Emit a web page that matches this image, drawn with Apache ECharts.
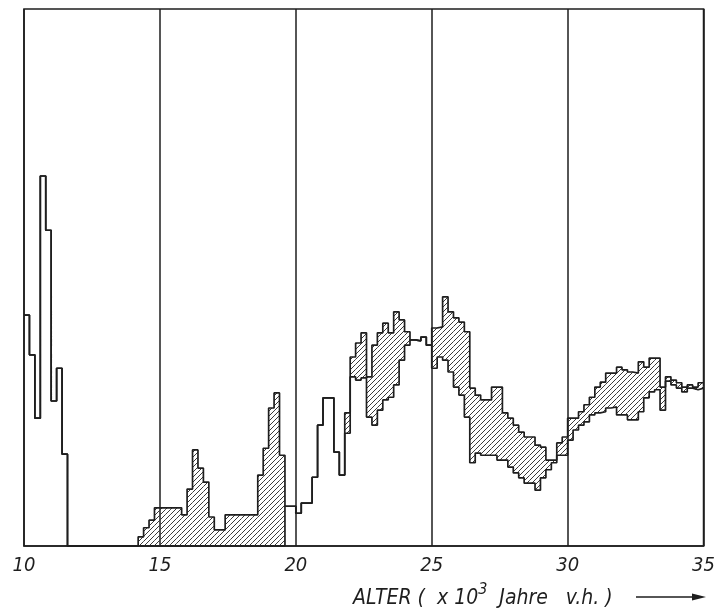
<!DOCTYPE html>
<html><head><meta charset="utf-8">
<script src="https://cdn.jsdelivr.net/npm/echarts@6/dist/echarts.min.js"></script>
<style>html,body{margin:0;padding:0;background:#fff}#c{width:718px;height:610px}</style>
</head><body><div id="c"></div>
<script>
// Bin edges (x 10^3 years before present), 0.2 kyr bins, last entry = right edge
const ages = [
  10.0,10.2,10.4,10.6,10.8,11.0,11.2,11.4,11.6,11.8,
  12.0,12.2,12.4,12.6,12.8,13.0,13.2,13.4,13.6,13.8,
  14.0,14.2,14.4,14.6,14.8,15.0,15.2,15.4,15.6,15.8,
  16.0,16.2,16.4,16.6,16.8,17.0,17.2,17.4,17.6,17.8,
  18.0,18.2,18.4,18.6,18.8,19.0,19.2,19.4,19.6,19.8,
  20.0,20.2,20.4,20.6,20.8,21.0,21.2,21.4,21.6,21.8,
  22.0,22.2,22.4,22.6,22.8,23.0,23.2,23.4,23.6,23.8,
  24.0,24.2,24.4,24.6,24.8,25.0,25.2,25.4,25.6,25.8,
  26.0,26.2,26.4,26.6,26.8,27.0,27.2,27.4,27.6,27.8,
  28.0,28.2,28.4,28.6,28.8,29.0,29.2,29.4,29.6,29.8,
  30.0,30.2,30.4,30.6,30.8,31.0,31.2,31.4,31.6,31.8,
  32.0,32.2,32.4,32.6,32.8,33.0,33.2,33.4,33.6,33.8,
  34.0,34.2,34.4,34.6,34.8,35.0
];
// Upper histogram outline (relative frequency)
const upper = [
  43.0,35.6,23.8,68.9,58.8,27.0,33.1,17.1,0,0,
  0,0,0,0,0,0,0,0,0,0,
  0,1.7,3.4,4.8,7.1,7.1,7.1,7.1,7.1,5.8,
  10.6,17.9,14.5,11.9,5.4,3.0,3.0,5.8,5.8,5.8,
  5.8,5.8,5.8,13.2,18.2,25.7,28.5,16.9,7.4,7.4,
  6.1,8.0,8.0,12.8,22.5,27.6,27.6,17.5,13.2,24.8,
  35.2,37.8,39.7,31.5,37.4,39.7,41.5,39.7,43.6,42.1,
  39.9,38.4,38.2,38.9,37.4,40.6,40.8,46.4,43.6,42.5,
  41.7,39.9,29.4,28.1,27.2,27.2,29.6,29.6,24.8,23.8,
  22.5,21.2,20.3,20.3,18.8,18.4,16.0,16.0,19.2,20.3,
  23.8,23.8,25.0,26.3,27.7,29.6,30.5,32.2,32.2,33.3,
  32.8,32.4,32.2,34.3,33.3,35.0,35.0,29.6,31.5,30.9,
  30.4,29.6,30.0,29.6,30.4
];
// Lower histogram outline
const lower = [
  43.0,35.6,23.8,68.9,58.8,27.0,33.1,17.1,0,0,
  0,0,0,0,0,0,0,0,0,0,
  0,0,0,0,0,0,0,0,0,0,
  0,0,0,0,0,0,0,0,0,0,
  0,0,0,0,0,0,0,0,7.4,7.4,
  6.1,8.0,8.0,12.8,22.5,27.6,27.6,17.5,13.2,21.0,
  31.5,30.9,31.3,24.0,22.5,25.3,27.2,27.7,30.0,34.6,
  37.4,38.4,38.2,38.9,37.4,33.1,35.2,34.6,32.4,29.6,
  28.1,24.0,15.5,17.3,16.9,16.9,16.9,16.0,16.0,14.7,
  13.6,12.7,11.7,11.7,10.4,12.7,14.2,15.5,16.9,16.9,
  19.7,21.6,22.5,23.1,24.4,24.8,25.0,25.7,25.9,24.4,
  24.4,23.5,23.5,25.0,27.6,28.7,29.1,25.3,30.7,30.0,
  29.4,28.7,29.4,29.1,29.4
];
const xTicks = [10, 15, 20, 25, 30, 35];
const axisTitle = ['ALTER (  x 10', '3', '  Jahre   v.h. )'];

function hatchTile() {
  const s = 5, c = document.createElement('canvas');
  c.width = s; c.height = s;
  const g = c.getContext('2d');
  g.strokeStyle = '#3a3a3a'; g.lineWidth = 1;
  g.beginPath();
  g.moveTo(0, s); g.lineTo(s, 0);
  g.moveTo(-1, 1); g.lineTo(1, -1);
  g.moveTo(s - 1, s + 1); g.lineTo(s + 1, s - 1);
  g.stroke();
  return c;
}
const HATCH = {image: hatchTile(), repeat: 'repeat'};
const pts = arr => ages.map((a, i) => [a, arr[Math.min(i, arr.length - 1)]]);
// hatched cells: [binStart, binEnd, lower, upper]
const cells = [];
for (let i = 0; i < upper.length; i++) {
  if (upper[i] > lower[i]) cells.push([ages[i], ages[i + 1], lower[i], upper[i]]);
}
const FONT = "'Liberation Sans Narrow','DejaVu Sans Condensed','DejaVu Sans',sans-serif";
const INK = '#1e1e1e';

const chart = echarts.init(document.getElementById('c'), null, {renderer: 'canvas'});
chart.setOption({
  animation: false,
  backgroundColor: '#fff',
  grid: {left: 24, right: 12, top: 9, bottom: 64, show: true, borderColor: INK, borderWidth: 1.6, backgroundColor: 'transparent'},
  xAxis: {
    type: 'value', min: xTicks[0], max: xTicks[xTicks.length - 1], interval: 5,
    axisLine: {show: true, lineStyle: {color: INK, width: 1.6}},
    axisTick: {show: false},
    splitLine: {show: true, lineStyle: {color: INK, width: 1.5}},
    axisLabel: {color: INK, fontSize: 20, fontStyle: 'italic', fontFamily: FONT, margin: 10}
  },
  yAxis: {type: 'value', min: 0, max: 100, show: true, axisLine: {show: false}, axisLabel: {show: false}, axisTick: {show: false}, splitLine: {show: false}},
  graphic: [
    {type: 'text', left: 353, top: 582, style: {
      text: '{a|' + axisTitle[0] + '}{s|' + axisTitle[1] + '}{a|' + axisTitle[2] + '}',
      rich: {
        a: {fontSize: 21, fontStyle: 'italic', fontFamily: FONT, fill: INK, lineHeight: 27, verticalAlign: 'bottom'},
        s: {fontSize: 16, fontStyle: 'italic', fontFamily: FONT, fill: INK, lineHeight: 16, verticalAlign: 'top'}
      }
    }},
    {type: 'line', shape: {x1: 636, y1: 597, x2: 700, y2: 597}, style: {stroke: INK, lineWidth: 1.4}},
    {type: 'polygon', shape: {points: [[706, 597], [692, 593.5], [692, 600.5]]}, style: {fill: INK}}
  ],
  series: [
    {type: 'custom', data: cells, silent: true, z: 1, clip: true,
     renderItem: function (params, api) {
       const p0 = api.coord([api.value(0), api.value(3)]);
       const p1 = api.coord([api.value(1), api.value(2)]);
       return {type: 'rect', shape: {x: p0[0], y: p0[1], width: p1[0] - p0[0], height: p1[1] - p0[1]},
               style: {fill: HATCH, stroke: null}};
     }},
    {type: 'line', step: 'end', data: pts(upper), symbol: 'none', silent: true,
     lineStyle: {color: INK, width: 1.7}, z: 3},
    {type: 'line', step: 'end', data: pts(lower), symbol: 'none', silent: true,
     lineStyle: {color: INK, width: 1.7}, z: 3}
  ]
});
</script></body></html>
